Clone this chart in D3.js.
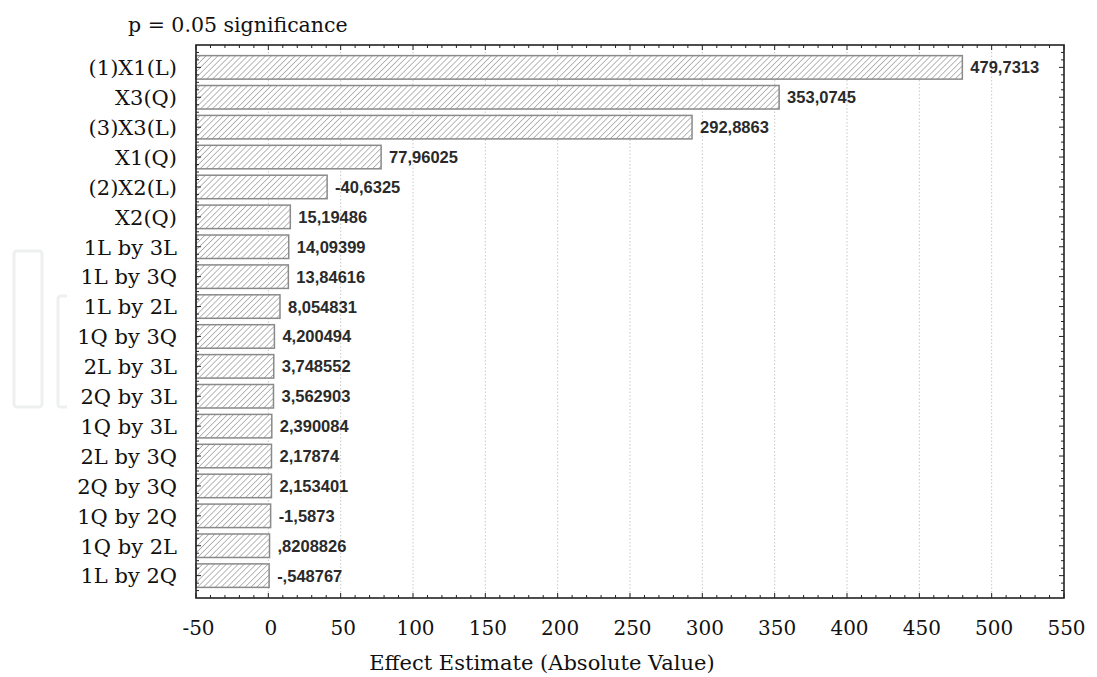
<!DOCTYPE html>
<html>
<head>
<meta charset="utf-8">
<script src="https://cdn.jsdelivr.net/npm/d3@7"></script>
<style>
  html, body { margin: 0; padding: 0; background: #fff; }
  svg { display: block; }
</style>
</head>
<body>
<svg id="chart" width="1097" height="677"></svg>
<script>
// Pareto chart of standardized effects
const categories = ["(1)X1(L)", "X3(Q)", "(3)X3(L)", "X1(Q)", "(2)X2(L)", "X2(Q)",
  "1L by 3L", "1L by 3Q", "1L by 2L", "1Q by 3Q", "2L by 3L", "2Q by 3L",
  "1Q by 3L", "2L by 3Q", "2Q by 3Q", "1Q by 2Q", "1Q by 2L", "1L by 2Q"];
const effects = [479.7313, 353.0745, 292.8863, 77.96025, -40.6325, 15.19486,
  14.09399, 13.84616, 8.054831, 4.200494, 3.748552, 3.562903,
  2.390084, 2.17874, 2.153401, -1.5873, 0.8208826, -0.548767];
const xTicks = [-50, 0, 50, 100, 150, 200, 250, 300, 350, 400, 450, 500, 550];
const titleText = "p = 0.05 significance";
const xTitle = "Effect Estimate (Absolute Value)";

const svg = d3.select("#chart");
const plot = { left: 196, top: 45, right: 1064, bottom: 598 };

const x = d3.scaleLinear().domain([-50, 550]).range([plot.left, plot.right]);
const y = d3.scaleBand().domain(categories).range([plot.top, plot.bottom])
  .paddingInner(0.214).paddingOuter(0.355);

// comma decimal, no leading zero before the comma
const fmt = v => String(v).replace(".", ",").replace(/^(-?)0,/, "$1,");

// hatch fill for the bars
const defs = svg.append("defs");
defs.append("pattern")
  .attr("id", "hatch").attr("patternUnits", "userSpaceOnUse")
  .attr("width", 4.2).attr("height", 4.2)
  .attr("patternTransform", "rotate(45)")
  .call(p => {
    p.append("rect").attr("width", 4.2).attr("height", 4.2).attr("fill", "#fff");
    p.append("line").attr("x1", 0).attr("y1", 0).attr("x2", 0).attr("y2", 4.2)
      .attr("stroke", "#858585").attr("stroke-width", 1.15);
  });

// faint decorative outlines at the left margin
svg.append("rect").attr("x", 14).attr("y", 251).attr("width", 28).attr("height", 156)
  .attr("rx", 3).attr("fill", "none").attr("stroke", "#eef0f0").attr("stroke-width", 3);
svg.append("path").attr("d", "M67,296 H61 Q58,296 58,299 V404 Q58,407 61,407 H67")
  .attr("fill", "none").attr("stroke", "#eef0f0").attr("stroke-width", 3);

// title
svg.append("text").attr("x", 128).attr("y", 31.5)
  .attr("font-family", "DejaVu Serif").attr("font-size", 20.5).attr("fill", "#111")
  .text(titleText);

// vertical dotted grid
svg.append("g").selectAll("line").data(xTicks.filter(t => t > -50 && t < 550)).join("line")
  .attr("x1", d => x(d)).attr("x2", d => x(d))
  .attr("y1", plot.top).attr("y2", plot.bottom)
  .attr("stroke", "#c8c8c8").attr("stroke-width", 1).attr("stroke-dasharray", "1.5,2");

// bars, drawn from the axis start to the absolute effect
svg.append("g").selectAll("rect").data(categories).join("rect")
  .attr("x", x(-50))
  .attr("y", d => y(d))
  .attr("width", (d, i) => x(Math.abs(effects[i])) - x(-50))
  .attr("height", y.bandwidth())
  .attr("fill", "url(#hatch)")
  .attr("stroke", "#8a8a8a").attr("stroke-width", 1.5);

// value labels
svg.append("g").selectAll("text").data(categories).join("text")
  .attr("x", (d, i) => x(Math.abs(effects[i])) + 8)
  .attr("y", d => y(d) + y.bandwidth() / 2 + 6)
  .attr("font-family", "Liberation Sans, Arial, sans-serif")
  .attr("font-weight", "bold").attr("font-size", 16.5).attr("fill", "#2a2a2a")
  .text((d, i) => fmt(effects[i]));

// category labels
svg.append("g").selectAll("text").data(categories).join("text")
  .attr("x", 177)
  .attr("y", d => y(d) + y.bandwidth() / 2 + 7.8)
  .attr("text-anchor", "end")
  .attr("font-family", "DejaVu Serif").attr("font-size", 21).attr("fill", "#111")
  .text(d => d);

// tick marks pointing into the plot on all four sides
const ticksG = svg.append("g").attr("stroke", "#222").attr("stroke-width", 1);
const minorX = d3.range(-50, 551, 10);
minorX.forEach(v => {
  const major = v % 50 === 0;
  const len = major ? 5 : 3;
  ticksG.append("line").attr("x1", x(v)).attr("x2", x(v))
    .attr("y1", plot.bottom).attr("y2", plot.bottom - len);
  ticksG.append("line").attr("x1", x(v)).attr("x2", x(v))
    .attr("y1", plot.top).attr("y2", plot.top + len);
});
const step = y.step();
const centers = categories.map(c => y(c) + y.bandwidth() / 2);
const yTickPos = [];
centers.forEach((c, i) => {
  yTickPos.push({ v: c, major: true });
  yTickPos.push({ v: c + step / 4, major: false });
  yTickPos.push({ v: c + step / 2, major: false });
  yTickPos.push({ v: c + 3 * step / 4, major: false });
  if (i === 0) {
    yTickPos.push({ v: c - step / 4, major: false });
    yTickPos.push({ v: c - step / 2, major: false });
  }
});
yTickPos.filter(t => t.v > plot.top + 1 && t.v < plot.bottom - 1).forEach(t => {
  const len = t.major ? 5 : 3;
  ticksG.append("line").attr("x1", plot.left).attr("x2", plot.left + len)
    .attr("y1", t.v).attr("y2", t.v);
  ticksG.append("line").attr("x1", plot.right).attr("x2", plot.right - len)
    .attr("y1", t.v).attr("y2", t.v);
});

// frame
svg.append("rect").attr("x", plot.left).attr("y", plot.top)
  .attr("width", plot.right - plot.left).attr("height", plot.bottom - plot.top)
  .attr("fill", "none").attr("stroke", "#222").attr("stroke-width", 1.6);

// x axis labels (plain hyphen for negatives)
const xAxis = d3.axisBottom(x).tickValues(xTicks).tickSize(0).tickPadding(0)
  .tickFormat(d => String(d));
const axG = svg.append("g").attr("transform", `translate(2,${plot.bottom})`).call(xAxis);
axG.select(".domain").remove();
axG.selectAll("text")
  .attr("dy", null).attr("y", 37)
  .attr("font-family", "DejaVu Serif").attr("font-size", 20).attr("fill", "#111");

// x axis title
svg.append("text").attr("x", 542).attr("y", 670).attr("text-anchor", "middle")
  .attr("font-family", "DejaVu Serif").attr("font-size", 21).attr("fill", "#111")
  .text(xTitle);
</script>
</body>
</html>
